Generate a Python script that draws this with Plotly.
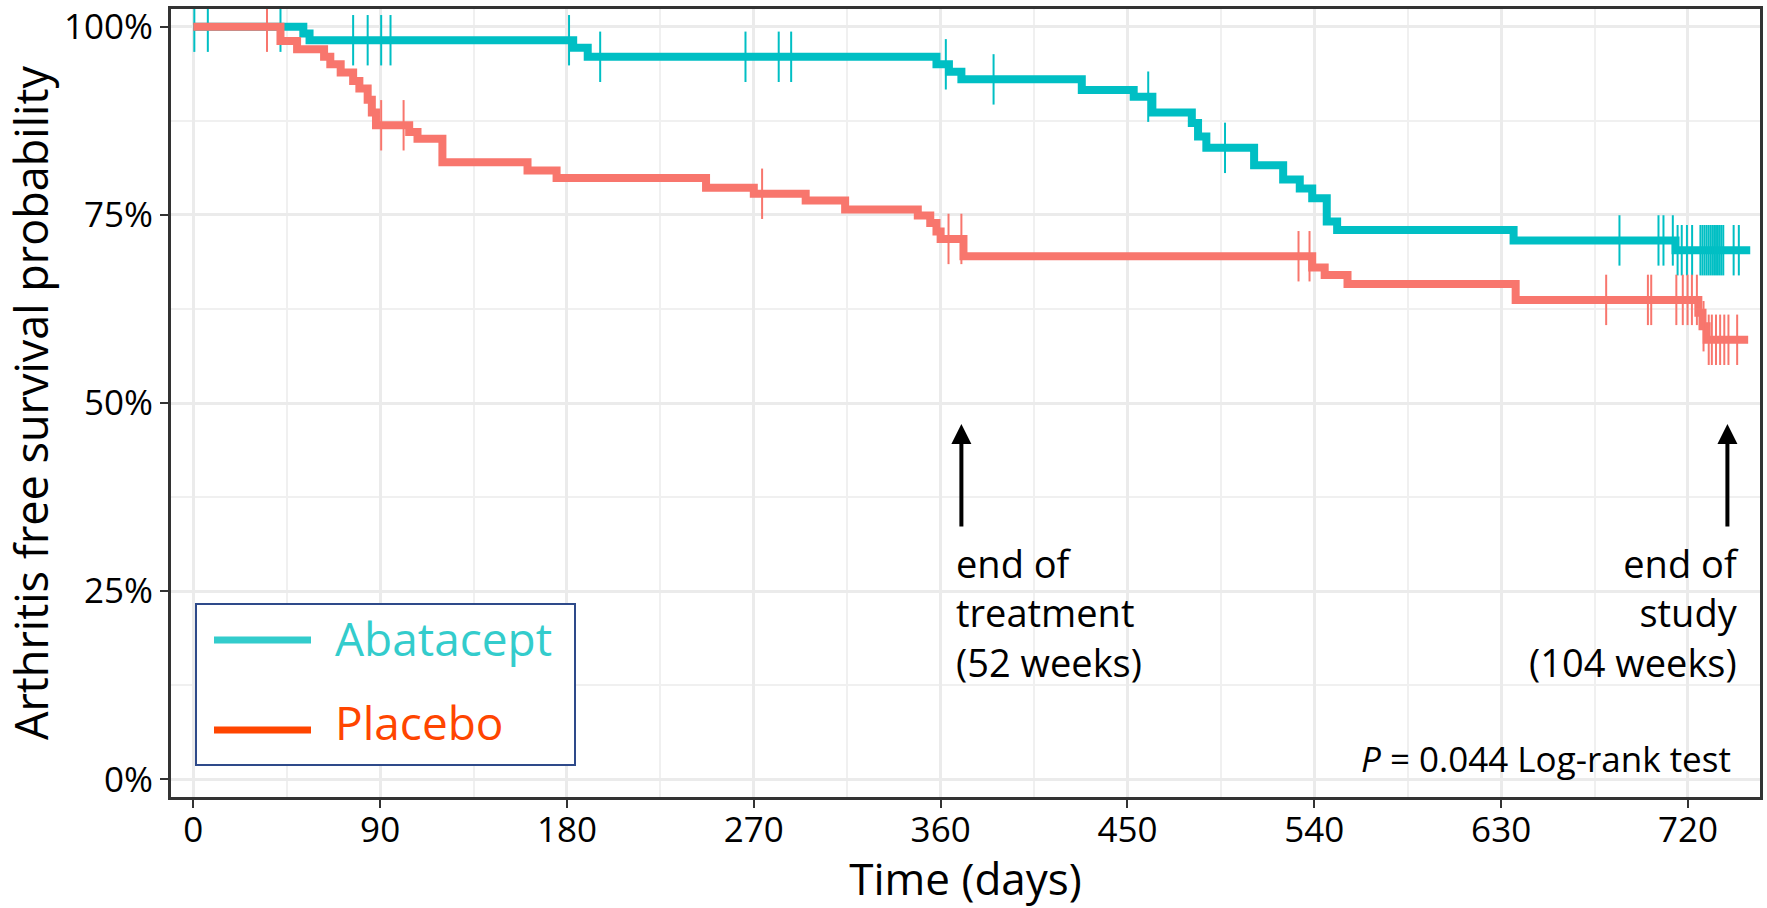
import plotly.graph_objects as go

# ---------------- data ----------------
series_names = ["Abatacept", "Placebo"]

abatacept_time = [0, 53, 56, 183, 190, 358, 364, 370, 428, 453, 462, 481, 484, 488,
                  511, 525, 533, 539, 546, 551, 636, 714, 750]
abatacept_surv = [100, 99.1, 98.2, 97.2, 96.0, 95.0, 94.0, 93.0, 91.6, 90.7, 88.6, 87.2, 85.4, 83.9,
                  81.6, 79.7, 78.5, 77.2, 74.1, 73.0, 71.6, 70.3, 70.3]
abatacept_censor = [0.5, 7, 42, 77, 84, 90.5, 95, 181, 196, 266, 282, 288, 362.5, 385.5, 460, 497,
                    687, 705.8, 708.2, 712.7, 715, 717, 719.5, 722, 726, 727, 728, 729, 730, 731,
                    732, 733, 734, 735, 736, 737, 742, 744.5]

placebo_time = [0, 42, 50, 63, 66, 71, 77, 80, 84, 86, 88, 104, 108, 120, 161, 175, 247, 270,
                295, 314, 349, 355, 358, 360, 371, 539, 545, 556, 637, 725, 727, 729, 749]
placebo_surv = [100, 98.1, 97.0, 96.0, 95.0, 93.9, 92.8, 91.8, 90.3, 88.6, 86.9, 86.0, 85.1, 82.0,
                80.9, 79.9, 78.6, 77.8, 76.9, 75.7, 74.9, 73.9, 72.8, 71.8, 69.5, 68.0, 67.0, 65.8,
                63.7, 62.0, 60.2, 58.4, 58.4]
placebo_censor = [35.5, 90.5, 101.3, 274, 363.8, 370, 532.4, 537.7, 680.6, 700.7, 702.3, 714.4,
                  717.5, 719.8, 721.9, 724.3, 727.5, 730, 731.5, 733.5, 735.5, 737.5, 739.5, 743.7]

x_ticks = [0, 90, 180, 270, 360, 450, 540, 630, 720]
y_ticks = [0, 25, 50, 75, 100]
y_ticklabels = ["0%", "25%", "50%", "75%", "100%"]

arrow_days = [370, 739]
arrow_labels = ["end of<br>treatment<br>(52 weeks)", "end of<br>study<br>(104 weeks)"]
pvalue_text = "<i>P</i> = 0.044 Log-rank test"

# ---------------- styling ----------------
FONT = "Open Sans"
curve_colors = ["#00BFC4", "#F8766D"]
legend_colors = ["#33CCCC", "#FF4500"]


def step_value(times, surv, t):
    v = surv[0]
    for ti, si in zip(times, surv):
        if ti <= t:
            v = si
        else:
            break
    return v


fig = go.Figure()
curves = [(abatacept_time, abatacept_surv, abatacept_censor),
          (placebo_time, placebo_surv, placebo_censor)]
for name, color, (tt, ss, cc) in zip(series_names, curve_colors, curves):
    fig.add_trace(go.Scatter(x=tt, y=ss, mode="lines", line=dict(color=color, width=8, shape="hv"),
                             name=name, showlegend=False, hoverinfo="skip"))
    fig.add_trace(go.Scatter(x=cc, y=[step_value(tt, ss, c) for c in cc], mode="markers",
                             marker=dict(symbol="line-ns", size=36, line=dict(width=2, color=color)),
                             name=name + " censored", showlegend=False, hoverinfo="skip"))

# plot area geometry (pixels)
L, R, T, B = 171, 7, 9, 111
W, H = 1767, 908
pw, ph = W - L - R, H - T - B


def px(x):
    return (x - L) / pw


def py(y):
    return (H - B - y) / ph


# custom legend box
fig.add_shape(type="rect", xref="paper", yref="paper", x0=px(196), x1=px(575), y0=py(765), y1=py(604),
              line=dict(color="#2E4A8A", width=2), fillcolor="white", layer="above")
for i, (name, col) in enumerate(zip(series_names, legend_colors)):
    ly = [640, 730][i]
    ty = [638, 722][i]
    fig.add_shape(type="line", xref="paper", yref="paper", x0=px(214), x1=px(311), y0=py(ly), y1=py(ly),
                  line=dict(color=col, width=7), layer="above")
    fig.add_annotation(xref="paper", yref="paper", x=px(333), y=py(ty), xanchor="left", yanchor="middle",
                       text=name, showarrow=False, font=dict(family=FONT, size=46, color=col))

# arrows and labels
for d in arrow_days:
    fig.add_annotation(x=d, y=47.2, ax=d, ay=33.4, axref="x", ayref="y", xref="x", yref="y",
                       text="", showarrow=True, arrowhead=2, arrowsize=1, arrowwidth=4,
                       arrowcolor="black", standoff=0)
fig.add_annotation(x=366.2, y=22.1, xref="x", yref="y", text=arrow_labels[0], showarrow=False,
                   xanchor="left", yanchor="middle", align="left",
                   font=dict(family=FONT, size=38, color="black"))
fig.add_annotation(x=745.5, y=22.1, xref="x", yref="y", text=arrow_labels[1], showarrow=False,
                   xanchor="right", yanchor="middle", align="right",
                   font=dict(family=FONT, size=38, color="black"))

# white label background for the p-value (covers grid only)
fig.add_shape(type="rect", xref="paper", yref="paper", x0=px(1342), x1=1.0, y0=py(792), y1=py(725),
              line=dict(width=0), fillcolor="white", layer="between")
fig.add_annotation(x=741.5, y=2.7, xref="x", yref="y", text=pvalue_text, showarrow=False,
                   xanchor="right", yanchor="middle", align="right",
                   font=dict(family=FONT, size=35, color="black"))

axis_common = dict(showline=True, mirror=True, linecolor="#333333", linewidth=3,
                   ticks="outside", ticklen=8, tickwidth=2, tickcolor="#333333",
                   showgrid=True, gridcolor="#EBEBEB", gridwidth=2.5, zeroline=False,
                   tickfont=dict(family=FONT, size=35, color="black"))

fig.update_xaxes(range=[-10.74, 754.7], tickvals=x_ticks, ticklabelstandoff=-8,
                 minor=dict(dtick=45, tick0=0, showgrid=True, gridcolor="#F0F0F0", gridwidth=2),
                 title=dict(text="Time (days)", font=dict(family=FONT, size=44, color="black"), standoff=14),
                 **axis_common)
fig.update_yaxes(range=[-2.35, 102.35], tickvals=y_ticks, ticktext=y_ticklabels,
                 minor=dict(dtick=12.5, tick0=0, showgrid=True, gridcolor="#F0F0F0", gridwidth=2),
                 title=dict(text="Arthritis free survival probability",
                            font=dict(family=FONT, size=45, color="black"), standoff=4),
                 **axis_common)

fig.update_layout(width=W, height=H, margin=dict(l=L, r=R, t=T, b=B, autoexpand=False),
                  plot_bgcolor="white", paper_bgcolor="white", showlegend=False,
                  font=dict(family=FONT))

fig.write_html("out.html", config={"displayModeBar": False},
               post_script="document.body.style.margin='0';document.body.style.overflow='hidden';")
